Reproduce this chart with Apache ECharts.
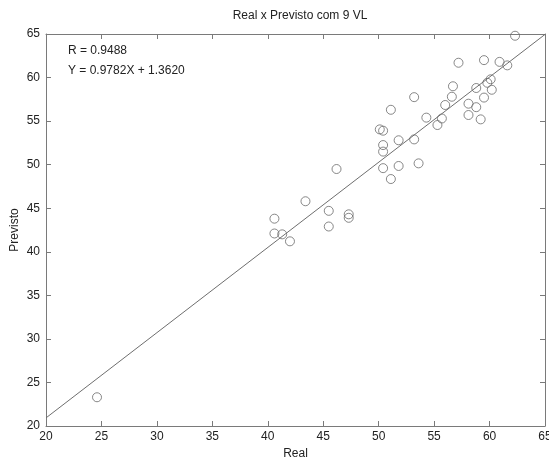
<!DOCTYPE html>
<html>
<head>
<meta charset="utf-8">
<script src="https://cdn.jsdelivr.net/npm/echarts@6/dist/echarts.min.js"></script>
<style>html,body{margin:0;padding:0;background:#fff}#c{width:549px;height:461px}</style>
</head>
<body>
<div id="c"></div>
<script>
const realX = [24.6,40.6,40.6,41.3,42.0,43.4,45.5,45.5,46.2,47.3,47.3,50.1,50.4,50.4,50.4,50.4,51.1,51.1,51.8,51.8,53.2,53.2,53.6,54.3,55.3,55.7,56.0,56.6,56.7,57.2,58.1,58.1,58.8,58.8,59.2,59.5,59.5,59.8,60.1,60.2,60.9,61.6,62.3];
const previstoY = [23.3,43.8,42.1,42.0,41.2,45.8,44.7,42.9,49.5,44.3,43.9,54.05,53.9,52.25,51.5,49.6,56.3,48.35,52.8,49.85,57.75,52.9,50.15,55.4,54.55,55.3,56.85,57.8,59.0,61.7,57.0,55.7,58.8,56.6,55.2,62.0,57.7,59.4,59.8,58.6,61.8,61.4,64.8];
const fitX = [20, 65];
const fitY = [20.93, 64.95];
const xTicks = [20,25,30,35,40,45,50,55,60,65];
const yTicks = [20,25,30,35,40,45,50,55,60,65];
const titleText = 'Real x Previsto com 9 VL';
const statLines = ['R = 0.9488', 'Y = 0.9782X + 1.3620'];

const font = 'Liberation Sans, Arial, sans-serif';
const axCol = '#7a7a7a';
const txtCol = '#222';
const chart = echarts.init(document.getElementById('c'));
const baseAxis = {
  min: 20, max: 65, interval: 5,
  axisLine: {show: true, lineStyle: {color: axCol, width: 1}},
  axisTick: {show: true, inside: true, length: 5, lineStyle: {color: axCol}},
  splitLine: {show: false}
};
chart.setOption({
  animation: false,
  backgroundColor: '#fff',
  title: {text: titleText, left: 295, top: 5, textAlign: 'center',
    textStyle: {fontFamily: font, fontSize: 12, fontWeight: 'normal', color: txtCol}},
  grid: {left: 46, right: 4, top: 34, bottom: 35, containLabel: false, outerBoundsMode: 'none'},
  xAxis: [
    Object.assign({}, baseAxis, {type: 'value', position: 'bottom', name: 'Real', nameLocation: 'middle', nameGap: 22,
      nameMoveOverlap: false,
      nameTextStyle: {fontFamily: font, fontSize: 12, color: txtCol},
      axisLabel: {fontFamily: font, fontSize: 12, color: txtCol, margin: 5, formatter: v => xTicks.includes(v) ? String(v) : ''}}),
    Object.assign({}, baseAxis, {type: 'value', position: 'top', axisLabel: {show: false}})
  ],
  yAxis: [
    Object.assign({}, baseAxis, {type: 'value', position: 'left', name: 'Previsto', nameLocation: 'middle', nameGap: 25,
      nameMoveOverlap: false,
      nameTextStyle: {fontFamily: font, fontSize: 12, color: txtCol},
      axisLabel: {fontFamily: font, fontSize: 12, color: txtCol, margin: 6, formatter: v => yTicks.includes(v) ? String(v) : ''}}),
    Object.assign({}, baseAxis, {type: 'value', position: 'right', axisLabel: {show: false}})
  ],
  graphic: statLines.map((t, i) => ({
    type: 'text', left: 68, top: 45 + i * 20,
    style: {text: t, fontFamily: font, fontSize: 12, fill: txtCol}
  })),
  series: [
    {type: 'line', data: fitX.map((x, i) => [x, fitY[i]]), symbol: 'none',
      lineStyle: {color: '#6e6e6e', width: 1}, silent: true, z: 1},
    {type: 'scatter', data: realX.map((x, i) => [x, previstoY[i]]), symbol: 'circle', symbolSize: 9,
      itemStyle: {color: 'rgba(255,255,255,0)', borderColor: '#6a6a6a', borderWidth: 1}, z: 2}
  ]
});
</script>
</body>
</html>
